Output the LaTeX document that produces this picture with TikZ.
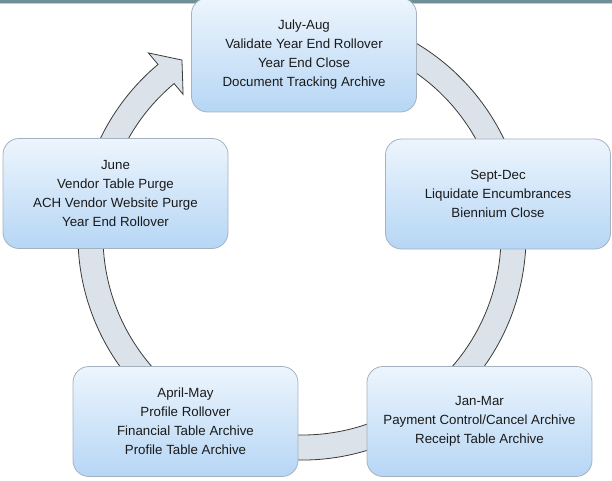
\documentclass[tikz,border=0pt]{standalone}
\usepackage{fontspec}
\setmainfont{Liberation Sans}
\usetikzlibrary{calc}
\definecolor{boxtop}{HTML}{EDF5FD}
\definecolor{boxbot}{HTML}{B6D6F5}
\definecolor{boxline}{HTML}{A4B2C0}
\definecolor{bandfill}{HTML}{DCE2EA}
\definecolor{bandline}{HTML}{3A3A3A}
\definecolor{stripc}{HTML}{6F8E98}
\definecolor{striplight}{HTML}{BDD0D6}
\definecolor{txt}{HTML}{1A1A1A}
\begin{document}
\begin{tikzpicture}[x=1pt,y=1pt,
  phase/.style={rounded corners=16pt, draw=boxline, line width=0.8pt,
    top color=boxtop, bottom color=boxbot,
    minimum width=225pt, minimum height=110pt, inner sep=0pt,
    align=center, text=txt, font=\fontsize{13.3}{19}\selectfont},
  band/.style={fill=bandfill, draw=bandline, line width=0.8pt, line join=miter}]
\useasboundingbox (0,0) rectangle (612,480);
\clip (0,0) rectangle (612,480);
% top strip
\fill[stripc] (0,476.5) rectangle (612,480);
\fill[striplight] (0,475.5) rectangle (612,476.5);
% cycle band with arrowhead
\coordinate (c) at (302,244);
\draw[band] ([shift={(c)}]80:224pt) arc[start angle=80, end angle=-230, radius=224pt]
  -- ([shift={(c)}]130:239pt) -- ([shift={(c)}]124.3:213pt)
  -- ([shift={(c)}]130:185pt) -- ([shift={(c)}]130:199pt)
  arc[start angle=-230, end angle=80, radius=199pt] -- cycle;
% boxes
\node[phase, minimum height=114pt] (jul) at (304,425) {July-Aug\\Validate Year End Rollover\\Year End Close\\Document Tracking Archive};
\node[phase] (sep) at (498,286) {Sept-Dec\\Liquidate Encumbrances\\Biennium Close};
\node[phase] (jan) at (479.5,58.5) {Jan-Mar\\Payment Control/Cancel Archive\\Receipt Table Archive};
\node[phase] (apr) at (185.5,58.5) {April-May\\Profile Rollover\\Financial Table Archive\\Profile Table Archive};
\node[phase] (jun) at (115.5,286.5) {June\\Vendor Table Purge\\ACH Vendor Website Purge\\Year End Rollover};
\end{tikzpicture}
\end{document}
